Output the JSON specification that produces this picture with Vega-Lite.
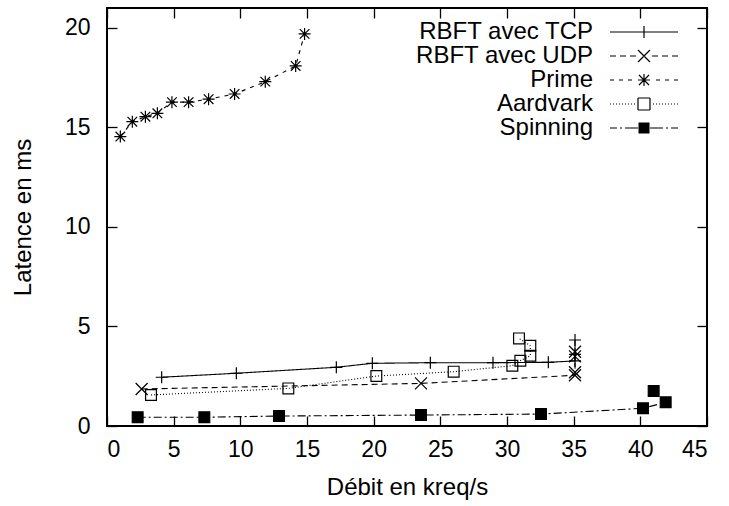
{
  "$schema": "https://vega.github.io/schema/vega-lite/v6.json",
  "width": 600,
  "height": 418,
  "autosize": {"type": "none"},
  "padding": {"left": 107, "top": 8, "right": 22, "bottom": 80},
  "background": "white",
  "config": {
    "font": "Liberation Sans",
    "view": {"stroke": "black", "strokeWidth": 2},
    "axis": {"grid": false, "domain": false, "tickColor": "black", "tickWidth": 1.3, "labelColor": "black", "titleColor": "black", "labelFont": "Liberation Sans", "titleFont": "Liberation Sans", "titleFontWeight": "normal"}
  },
  "data": {
    "values": [
      {"s": "RBFT avec TCP", "o": 1, "x": 4.1, "y": 2.45},
      {"s": "RBFT avec TCP", "o": 2, "x": 9.7, "y": 2.65},
      {"s": "RBFT avec TCP", "o": 3, "x": 17.2, "y": 2.95},
      {"s": "RBFT avec TCP", "o": 4, "x": 19.9, "y": 3.15},
      {"s": "RBFT avec TCP", "o": 5, "x": 24.25, "y": 3.18},
      {"s": "RBFT avec TCP", "o": 6, "x": 28.95, "y": 3.18},
      {"s": "RBFT avec TCP", "o": 7, "x": 33.1, "y": 3.2},
      {"s": "RBFT avec TCP", "o": 8, "x": 35.1, "y": 3.27},
      {"s": "RBFT avec TCP", "o": 9, "x": 35.1, "y": 3.6},
      {"s": "RBFT avec TCP", "o": 10, "x": 35.1, "y": 4.32},
      {"s": "RBFT avec UDP", "o": 1, "x": 2.6, "y": 1.86},
      {"s": "RBFT avec UDP", "o": 2, "x": 23.55, "y": 2.14},
      {"s": "RBFT avec UDP", "o": 3, "x": 35.1, "y": 2.55},
      {"s": "RBFT avec UDP", "o": 4, "x": 35.1, "y": 2.7},
      {"s": "RBFT avec UDP", "o": 5, "x": 35.1, "y": 3.5},
      {"s": "RBFT avec UDP", "o": 6, "x": 35.1, "y": 3.73},
      {"s": "Prime", "o": 1, "x": 1.0, "y": 14.54},
      {"s": "Prime", "o": 2, "x": 1.9, "y": 15.29},
      {"s": "Prime", "o": 3, "x": 2.88, "y": 15.54},
      {"s": "Prime", "o": 4, "x": 3.78, "y": 15.71},
      {"s": "Prime", "o": 5, "x": 4.87, "y": 16.27},
      {"s": "Prime", "o": 6, "x": 6.12, "y": 16.27},
      {"s": "Prime", "o": 7, "x": 7.62, "y": 16.42},
      {"s": "Prime", "o": 8, "x": 9.57, "y": 16.68},
      {"s": "Prime", "o": 9, "x": 11.87, "y": 17.3},
      {"s": "Prime", "o": 10, "x": 14.15, "y": 18.09},
      {"s": "Prime", "o": 11, "x": 14.82, "y": 19.7},
      {"s": "Aardvark", "o": 1, "x": 3.3, "y": 1.56},
      {"s": "Aardvark", "o": 2, "x": 13.6, "y": 1.89},
      {"s": "Aardvark", "o": 3, "x": 20.2, "y": 2.51},
      {"s": "Aardvark", "o": 4, "x": 26.0, "y": 2.73},
      {"s": "Aardvark", "o": 5, "x": 30.4, "y": 3.03},
      {"s": "Aardvark", "o": 6, "x": 31.0, "y": 3.28},
      {"s": "Aardvark", "o": 7, "x": 31.75, "y": 3.53},
      {"s": "Aardvark", "o": 8, "x": 31.75, "y": 4.03},
      {"s": "Aardvark", "o": 9, "x": 30.9, "y": 4.4},
      {"s": "Spinning", "o": 1, "x": 2.3, "y": 0.44},
      {"s": "Spinning", "o": 2, "x": 7.3, "y": 0.44},
      {"s": "Spinning", "o": 3, "x": 12.9, "y": 0.5},
      {"s": "Spinning", "o": 4, "x": 23.55, "y": 0.55},
      {"s": "Spinning", "o": 5, "x": 32.55, "y": 0.6},
      {"s": "Spinning", "o": 6, "x": 40.2, "y": 0.89},
      {"s": "Spinning", "o": 7, "x": 41.9, "y": 1.19},
      {"s": "Spinning", "o": 8, "x": 41.0, "y": 1.76}
    ]
  },
  "resolve": {"axis": {"x": "independent", "y": "independent"}},
  "layer": [
    {
      "mark": {"type": "line", "color": "black", "strokeWidth": 1.1},
      "encoding": {
        "x": {"field": "x", "type": "quantitative", "scale": {"domain": [0, 45], "nice": false, "zero": false},
          "axis": {"orient": "bottom", "values": [0, 5, 10, 15, 20, 25, 30, 35, 40, 45], "tickSize": -10, "labelPadding": 22, "labelFontSize": 23, "title": "Débit en kreq/s", "titleFontSize": 24, "titlePadding": 14}},
        "y": {"field": "y", "type": "quantitative", "scale": {"domain": [0, 21], "nice": false, "zero": false},
          "axis": {"orient": "left", "values": [0, 5, 10, 15, 20], "tickSize": -10, "labelPadding": 27, "labelFontSize": 23, "title": "Latence en ms", "titleFontSize": 24, "titlePadding": 29}},
        "detail": {"field": "s"},
        "order": {"field": "o", "type": "quantitative"},
        "strokeDash": {
          "field": "s", "type": "nominal",
          "scale": {"domain": ["RBFT avec TCP", "RBFT avec UDP", "Prime", "Aardvark", "Spinning"], "range": [[1, 0], [6, 4], [4, 5], [1, 2], [8, 3, 2, 3]]},
          "legend": {
            "title": null, "orient": "none", "legendX": 525, "legendY": 12,
            "labelAlign": "right", "labelOffset": -63, "labelFontSize": 24, "labelLimit": 400, "labelColor": "black",
            "symbolSize": 4, "rowPadding": 0, "padding": 0,
            "symbolStrokeColor": "black", "symbolStrokeWidth": 1.2, "symbolOpacity": 1,
            "symbolType": {"expr": "datum.value === 'RBFT avec TCP' ? 'M-34,0H34M0,-6V6' : datum.value === 'RBFT avec UDP' ? 'M-34,0H-28M-24,0H-18M-14,0H-8M8,0H14M18,0H24M28,0H34M0,0L3,3M3,3L6,6M0,0L-3,-3M-3,-3L-6,-6M0,0L3,-3M3,-3L6,-6M0,0L-3,3M-3,3L-6,6' : datum.value === 'Prime' ? 'M-34,0H-30M-25,0H-21M-16,0H-12M12,0H16M21,0H25M30,0H34M0,0H3M3,0H6M0,0H-3M-3,0H-6M0,0V3M0,3V6M0,0V-3M0,-3V-6M0,0L2.5,2.5M2.5,2.5L5,5M0,0L-2.5,-2.5M-2.5,-2.5L-5,-5M0,0L2.5,-2.5M2.5,-2.5L5,-5M0,0L-2.5,2.5M-2.5,2.5L-5,5' : datum.value === 'Aardvark' ? 'M-34,0h1M-31,0h1M-28,0h1M-25,0h1M-22,0h1M-19,0h1M-16,0h1M-13,0h1M-10,0h1M9,0h1M12,0h1M15,0h1M18,0h1M21,0h1M24,0h1M27,0h1M30,0h1M33,0h1M-6,-6h1M-5,-6h1M-4,-6h1M-3,-6h1M-2,-6h1M-1,-6h1M0,-6h1M1,-6h1M2,-6h1M3,-6h1M4,-6h1M5,-6h1M-6,6h1M-5,6h1M-4,6h1M-3,6h1M-2,6h1M-1,6h1M0,6h1M1,6h1M2,6h1M3,6h1M4,6h1M5,6h1M-6,-6v1M-6,-5v1M-6,-4v1M-6,-3v1M-6,-2v1M-6,-1v1M-6,0v1M-6,1v1M-6,2v1M-6,3v1M-6,4v1M-6,5v1M6,-6v1M6,-5v1M6,-4v1M6,-3v1M6,-2v1M6,-1v1M6,0v1M6,1v1M6,2v1M6,3v1M6,4v1M6,5v1' : 'M-34,0H-27M-24,0H-22M-19,0H-12M-12,0H-6M6,0H12M12,0H19M22,0H24M27,0H34M-5.5,-5H0M0,-5H5.5M-5.5,-4H0M0,-4H5.5M-5.5,-3H0M0,-3H5.5M-5.5,-2H0M0,-2H5.5M-5.5,-1H0M0,-1H5.5M-5.5,0H0M0,0H5.5M-5.5,1H0M0,1H5.5M-5.5,2H0M0,2H5.5M-5.5,3H0M0,3H5.5M-5.5,4H0M0,4H5.5M-5.5,5H0M0,5H5.5'"}
          }
        }
      }
    },
    {
      "mark": {"type": "point", "stroke": "black", "strokeWidth": 1.2, "size": 144, "opacity": 1},
      "encoding": {
        "x": {"field": "x", "type": "quantitative", "axis": {"orient": "top", "values": [0, 5, 10, 15, 20, 25, 30, 35, 40, 45], "tickSize": -10, "labels": false, "title": null}},
        "y": {"field": "y", "type": "quantitative", "axis": {"orient": "right", "values": [0, 5, 10, 15, 20], "tickSize": -10, "labels": false, "title": null}},
        "shape": {
          "condition": [
            {"test": "datum.s === 'RBFT avec TCP'", "value": "M-1,0H1M0,-1V1"},
            {"test": "datum.s === 'RBFT avec UDP'", "value": "M-1,-1L1,1M-1,1L1,-1"},
            {"test": "datum.s === 'Prime'", "value": "M-1,0H1M0,-1V1M-0.8,-0.8L0.8,0.8M-0.8,0.8L0.8,-0.8"}
          ],
          "value": "M-0.9,-0.9H0.9V0.9H-0.9Z"
        },
        "fill": {
          "condition": {"test": "datum.s === 'Spinning'", "value": "black"},
          "value": "transparent"
        }
      }
    }
  ]
}
